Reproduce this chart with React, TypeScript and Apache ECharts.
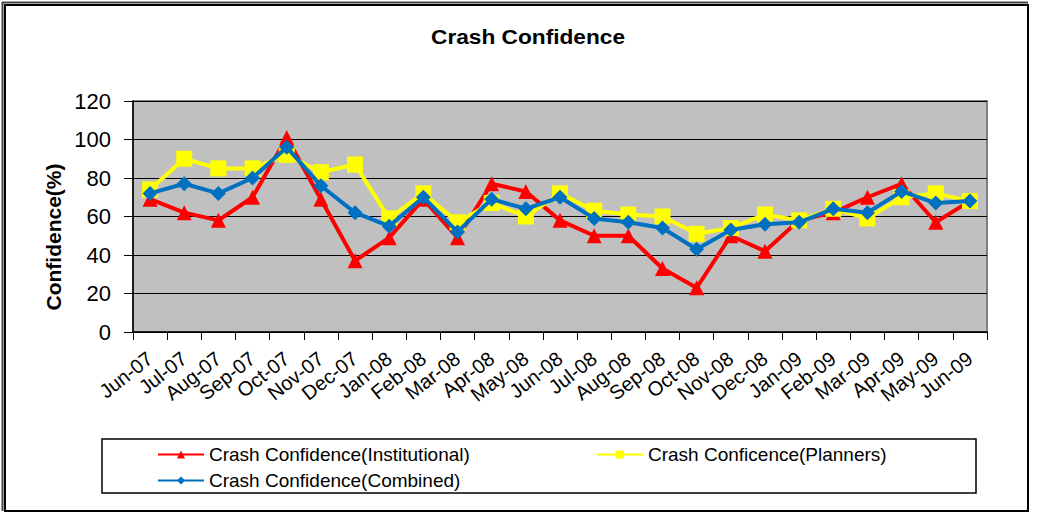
import React, { useEffect, useRef } from "react";
import * as echarts from "echarts";

const months = [
  "Jun-07", "Jul-07", "Aug-07", "Sep-07", "Oct-07", "Nov-07", "Dec-07",
  "Jan-08", "Feb-08", "Mar-08", "Apr-08", "May-08", "Jun-08", "Jul-08",
  "Aug-08", "Sep-08", "Oct-08", "Nov-08", "Dec-08", "Jan-09", "Feb-09",
  "Mar-09", "Apr-09", "May-09", "Jun-09",
];
const institutional = [69, 62, 58, 70, 101, 69, 37, 49, 69, 49, 77, 73, 58, 50, 50, 33, 23, 50, 42, 58, 62, 70, 77, 57, 68];
const planners = [74, 90, 85, 85, 92, 83, 87, 59, 72, 57, 67, 60, 72, 63, 61, 60, 51, 54, 61, 58, 64, 59, 70, 72, 68];
const combined = [72, 77, 72, 80, 96, 76, 62, 55, 70, 52, 69, 64, 70, 59, 57, 54, 43, 53, 56, 57, 64, 62, 73, 67, 68];
const yTicks = { min: 0, max: 120, interval: 20 };

const FONT = "'Liberation Sans', Arial, sans-serif";

export default function App() {
  const ref = useRef<HTMLDivElement>(null);
  useEffect(() => {
    if (!ref.current) return;
    const chart = echarts.init(ref.current, undefined, { renderer: "svg" });
    const names = [
      "Crash Confidence(Institutional)",
      "Crash Conficence(Planners)",
      "Crash Confidence(Combined)",
    ];
    const legendBase = {
      orient: "horizontal" as const,
      itemWidth: 46,
      itemHeight: 10,
      lineStyle: { width: 2 },
      textStyle: { color: "#000", fontSize: 19, fontFamily: FONT },
      selectedMode: false,
      padding: 0,
    };
    chart.setOption({
      animation: false,
      backgroundColor: "#fff",
      textStyle: { fontFamily: FONT },
      graphic: [
        { type: "rect", shape: { x: 5, y: 5, width: 1023, height: 506 }, style: { fill: "none", stroke: "#000", lineWidth: 2 }, z: 0 },
        { type: "line", shape: { x1: 2.5, y1: 2, x2: 2.5, y2: 511 }, style: { stroke: "#444", lineWidth: 2 } },
        { type: "line", shape: { x1: 2, y1: 2.5, x2: 1028, y2: 2.5 }, style: { stroke: "#444", lineWidth: 2 } },
        { type: "rect", shape: { x: 102, y: 439, width: 874, height: 54 }, style: { fill: "#fff", stroke: "#000", lineWidth: 1.5 }, z: 0 },
        {
          type: "text", x: 528, y: 37, scaleX: 1.08,
          style: { text: "Crash Confidence", fontSize: 21, fontWeight: "bold", fontFamily: FONT, fill: "#000", align: "center", verticalAlign: "middle" },
        },
        {
          type: "text", x: 53, y: 237, rotation: Math.PI / 2,
          style: { text: "Confidence(%)", fontSize: 21, fontWeight: "bold", fontFamily: FONT, fill: "#000", align: "center", verticalAlign: "middle" },
        },
      ],
      grid: {
        left: 133, top: 101, right: 53, bottom: 181,
        show: true, backgroundColor: "#c0c0c0", borderColor: "#808080", borderWidth: 2,
        containLabel: false,
      },
      legend: [
        { ...legendBase, data: [names[0]], left: 157, top: 445 },
        { ...legendBase, data: [names[1]], left: 596, top: 445 },
        { ...legendBase, data: [names[2]], left: 157, top: 471 },
      ],
      xAxis: {
        type: "category",
        data: months,
        boundaryGap: true,
        axisLine: { lineStyle: { color: "#000", width: 1.5 } },
        axisTick: { show: true, length: 8, lineStyle: { color: "#000" }, interval: 0 },
        axisLabel: { interval: 0, rotate: 38, margin: 24, fontSize: 20, color: "#000", fontFamily: FONT },
      },
      yAxis: {
        type: "value",
        ...yTicks,
        axisLine: { show: true, lineStyle: { color: "#000", width: 1.5 } },
        axisTick: { show: true, length: 9, lineStyle: { color: "#000" } },
        axisLabel: { fontSize: 22, color: "#000", margin: 22, fontFamily: FONT },
        splitLine: { show: true, lineStyle: { color: "#000", width: 1.2 } },
      },
      series: [
        {
          name: names[0], type: "line", data: institutional,
          symbol: "triangle", symbolSize: 15,
          lineStyle: { color: "#ff0000", width: 4 },
          itemStyle: { color: "#ff0000" },
          z: 2,
        },
        {
          name: names[1], type: "line", data: planners,
          symbol: "rect", symbolSize: 16,
          lineStyle: { color: "#ffff00", width: 4 },
          itemStyle: { color: "#ffff00" },
          z: 3,
        },
        {
          name: names[2], type: "line", data: combined,
          symbol: "diamond", symbolSize: 15,
          lineStyle: { color: "#0070c0", width: 4 },
          itemStyle: { color: "#0070c0" },
          z: 4,
        },
      ],
    });
    return () => chart.dispose();
  }, []);
  return (
    <div
      ref={ref}
      style={{ position: "absolute", left: 0, top: 0, width: 1040, height: 513, background: "#fff" }}
    />
  );
}
